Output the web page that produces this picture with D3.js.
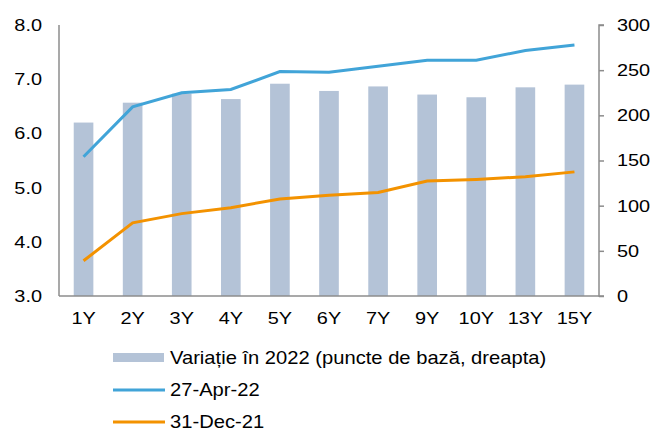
<!DOCTYPE html>
<html>
<head>
<meta charset="utf-8">
<script src="https://cdn.jsdelivr.net/npm/d3@7"></script>
<style>
  body { margin: 0; background: #fff; }
  svg text { font-family: "Liberation Sans", Arial, sans-serif; fill: #000; }
</style>
</head>
<body>
<div id="chart"></div>
<script>
const categories = ["1Y", "2Y", "3Y", "4Y", "5Y", "6Y", "7Y", "9Y", "10Y", "13Y", "15Y"];
const variatie = [192, 214, 224, 218, 235, 227, 232, 223, 220, 231, 234];
const apr22 = [5.57, 6.49, 6.75, 6.81, 7.14, 7.13, 7.24, 7.35, 7.35, 7.53, 7.63];
const dec21 = [3.65, 4.35, 4.52, 4.63, 4.79, 4.86, 4.91, 5.12, 5.15, 5.20, 5.29];
const leftTicks = [3, 4, 5, 6, 7, 8];
const rightTicks = [0, 50, 100, 150, 200, 250, 300];
const legendLabels = ["Variație în 2022 (puncte de bază, dreapta)", "27-Apr-22", "31-Dec-21"];

const W = 654, H = 430;
const margin = {left: 59, right: 55, top: 25, bottom: 134};
const width = W - margin.left - margin.right;
const height = H - margin.top - margin.bottom;

// the source picture is a bit wider than tall, so text gets stretched sideways
function stretch(sel, s) {
    sel.each(function () {
        const t = d3.select(this);
        const tx = +t.attr("x") || 0;
        t.attr("x", 0).attr("transform", `translate(${tx},0) scale(${s},1)`);
    });
}

const svg = d3.select("#chart").append("svg")
    .attr("width", W)
    .attr("height", H);

const g = svg.append("g")
    .attr("transform", `translate(${margin.left}, ${margin.top})`);

const x = d3.scaleBand().domain(categories).range([0, width]).paddingInner(0.6).paddingOuter(0.3);
const yL = d3.scaleLinear().domain([3, 8]).range([height, 0]);
const yR = d3.scaleLinear().domain([0, 300]).range([height, 0]);

// bars (right axis)
g.selectAll("rect.bar")
    .data(variatie)
    .enter().append("rect")
    .attr("class", "bar")
    .attr("x", (d, i) => x(categories[i]))
    .attr("y", d => yR(d))
    .attr("width", x.bandwidth())
    .attr("height", d => yR(0) - yR(d))
    .attr("fill", "#b4c3d7");

const line = d3.line()
    .x((d, i) => x(categories[i]) + x.bandwidth() / 2)
    .y(d => yL(d));

g.append("path")
    .datum(dec21)
    .attr("d", line)
    .attr("fill", "none")
    .attr("stroke", "#f39200")
    .attr("stroke-width", 3);

g.append("path")
    .datum(apr22)
    .attr("d", line)
    .attr("fill", "none")
    .attr("stroke", "#41a4d8")
    .attr("stroke-width", 3);

// axes
const axisL = g.append("g")
    .call(d3.axisLeft(yL).tickValues(leftTicks).tickFormat(d3.format(".1f")).tickSize(0).tickPadding(17));
const axisR = g.append("g")
    .attr("transform", `translate(${width}, 0)`)
    .call(d3.axisRight(yR).tickValues(rightTicks).tickSize(5).tickPadding(13));
const axisB = g.append("g")
    .attr("transform", `translate(0, ${height})`)
    .call(d3.axisBottom(x).tickSize(0).tickPadding(16));

[axisL, axisR, axisB].forEach(a => {
    a.select(".domain").attr("stroke", "#8c8c8c").attr("stroke-width", 1.5);
    a.selectAll(".tick line").attr("stroke", "#8c8c8c").attr("stroke-width", 1.5);
    a.selectAll("text").style("font-size", "17px").attr("fill", "#000");
    stretch(a.selectAll("text"), 1.17);
});
axisL.select(".domain").attr("d", `M0,0V${height}`);
axisR.select(".domain").attr("d", `M5,0H0V${height}H5`);
axisB.select(".domain").attr("d", `M0,0H${width}`);

// legend
const legend = svg.append("g").attr("transform", "translate(113, 0)");
const rows = [358, 390, 422];
legend.append("rect")
    .attr("x", 0).attr("y", rows[0] - 5)
    .attr("width", 51).attr("height", 9)
    .attr("fill", "#b4c3d7");
legend.append("line")
    .attr("x1", 0).attr("x2", 52).attr("y1", rows[1]).attr("y2", rows[1])
    .attr("stroke", "#41a4d8").attr("stroke-width", 3);
legend.append("line")
    .attr("x1", 0).attr("x2", 52).attr("y1", rows[2]).attr("y2", rows[2])
    .attr("stroke", "#f39200").attr("stroke-width", 3);
legend.selectAll("text.lg")
    .data(legendLabels)
    .enter().append("text")
    .attr("class", "lg")
    .attr("x", 57)
    .attr("y", (d, i) => rows[i])
    .attr("dy", "0.35em")
    .style("font-size", "18px")
    .text(d => d)
    .call(stretch, 1.12);
</script>
</body>
</html>
